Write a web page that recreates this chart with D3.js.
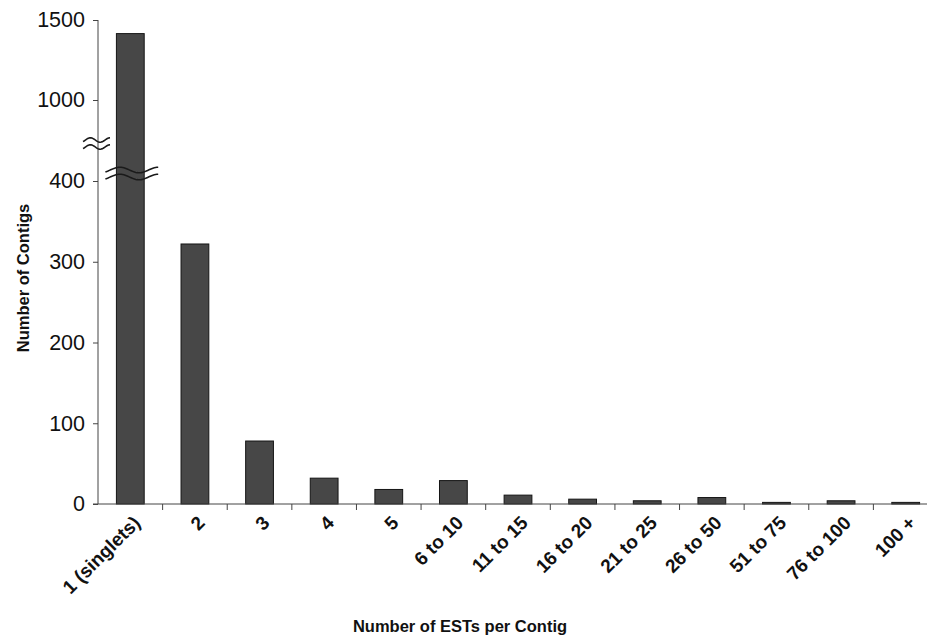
<!DOCTYPE html>
<html>
<head>
<meta charset="utf-8">
<script src="https://cdn.jsdelivr.net/npm/d3@7"></script>
<style>
  html, body { margin: 0; padding: 0; background: #fff; }
  svg { display: block; }
  text { font-family: "Liberation Sans", Arial, sans-serif; fill: #111; }
</style>
</head>
<body>
<div id="chart"></div>
<script>
// Contig size distribution: how many contigs contain a given number of ESTs
const categories = ["1 (singlets)", "2", "3", "4", "5", "6 to 10", "11 to 15",
                    "16 to 20", "21 to 25", "26 to 50", "51 to 75", "76 to 100", "100 +"];
const contigCounts = [1415, 322, 78, 32, 18, 29, 11, 6, 4, 8, 2, 4, 2];
// the value axis is broken between 400 and 1000
const yTickValues = [0, 100, 200, 300, 400, 1000, 1500];
const breakLow = 400, breakHigh = 1000;

const width = 927, height = 638;
const svg = d3.select("#chart").append("svg")
  .attr("width", width).attr("height", height);

const x = d3.scaleBand()
  .domain(categories)
  .range([98, 938])
  .paddingInner(0.57)
  .paddingOuter(0.285);

// piecewise scale: a compressed upper segment above the axis break
const y = d3.scaleLinear()
  .domain([0, breakLow, breakHigh, 1500])
  .range([504, 181, 100, 20]);

const axisColor = "#444";

// bars
svg.append("g").selectAll("rect")
  .data(categories.map((c, i) => ({ c, v: contigCounts[i] })))
  .join("rect")
  .attr("x", d => x(d.c))
  .attr("y", d => y(d.v))
  .attr("width", x.bandwidth())
  .attr("height", d => y(0) - y(d.v))
  .attr("fill", "#474747")
  .attr("stroke", "#151515")
  .attr("stroke-width", 1);

// y axis
const yAxis = svg.append("g")
  .attr("transform", `translate(${x.range()[0]},0)`)
  .call(d3.axisLeft(y).tickValues(yTickValues).tickSize(5).tickPadding(8).tickFormat(d3.format("d")));
yAxis.select(".domain").attr("stroke", axisColor).attr("d", `M0,${y(1500)}V${y(0)}`);
yAxis.selectAll(".tick line").attr("stroke", axisColor);
yAxis.selectAll(".tick text")
  .style("font-size", "21.5px")
  .style("font-family", "'Liberation Sans', Arial, sans-serif")
  .attr("fill", "#111");

// x axis baseline with ticks between categories
const xAxisG = svg.append("g");
xAxisG.append("line")
  .attr("x1", x.range()[0] - 5).attr("x2", width)
  .attr("y1", y(0)).attr("y2", y(0))
  .attr("stroke", axisColor);
xAxisG.selectAll("line.tick")
  .data(categories)
  .join("line")
  .attr("class", "tick")
  .attr("x1", d => x(d) + x.bandwidth() + x.step() * x.paddingInner() / 2)
  .attr("x2", d => x(d) + x.bandwidth() + x.step() * x.paddingInner() / 2)
  .attr("y1", y(0)).attr("y2", y(0) + 6)
  .attr("stroke", axisColor);

// rotated category labels
xAxisG.selectAll("text")
  .data(categories)
  .join("text")
  .attr("transform", d => `translate(${x(d) + x.bandwidth() / 2 + 1},${y(0) + 10}) rotate(-45)`)
  .attr("text-anchor", "end")
  .attr("dy", "0.75em")
  .style("font-size", "19px")
  .style("font-weight", "bold")
  .text(d => d);

// axis break marks
function wave(x0, x1, yc, amp) {
  const t0 = -0.25 * Math.PI, t1 = 2.5 * Math.PI, n = 40;
  const pts = d3.range(n + 1).map(i => {
    const t = t0 + (t1 - t0) * i / n;
    return [x0 + (x1 - x0) * i / n, yc - amp * Math.sin(t)];
  });
  return d3.line()(pts);
}
const breakG = svg.append("g").attr("fill", "none").attr("stroke", "#1a1a1a").attr("stroke-width", 1.6);
const axisBreakY = (y(breakLow) + y(breakHigh)) / 2 + 3;
breakG.append("path").attr("d", wave(83, 110, axisBreakY - 3.5, 2.2));
breakG.append("path").attr("d", wave(83, 110, axisBreakY + 3.5, 2.2));
const barBreakY = y(breakLow) - 7.5;
const bx0 = x(categories[0]) - 11, bx1 = x(categories[0]) + x.bandwidth() + 14;
breakG.append("path").attr("d", wave(bx0, bx1, barBreakY - 3.5, 2.8));
breakG.append("path").attr("d", wave(bx0, bx1, barBreakY + 3.5, 2.8));

// axis titles
svg.append("text")
  .attr("transform", `translate(29,278) rotate(-90)`)
  .attr("text-anchor", "middle")
  .style("font-size", "16.5px")
  .style("font-weight", "bold")
  .text("Number of Contigs");

svg.append("text")
  .attr("x", 460).attr("y", 632)
  .attr("text-anchor", "middle")
  .style("font-size", "16.5px")
  .style("font-weight", "bold")
  .text("Number of ESTs per Contig");
</script>
</body>
</html>
